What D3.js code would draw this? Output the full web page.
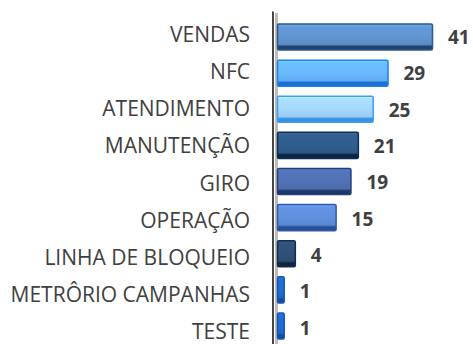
<!DOCTYPE html>
<html>
<head>
<meta charset="utf-8">
<script src="https://cdn.jsdelivr.net/npm/d3@7/dist/d3.min.js"></script>
<style>
  html, body { margin: 0; padding: 0; background: #ffffff; }
  svg { display: block; }
</style>
</head>
<body>
<svg id="chart" width="473" height="344"></svg>
<script>
// Categories and counts, top to bottom
const categories = [
  "VENDAS", "NFC", "ATENDIMENTO", "MANUTENÇÃO", "GIRO",
  "OPERAÇÃO", "LINHA DE BLOQUEIO", "METRÔRIO CAMPANHAS", "TESTE"
];
const values = [41, 29, 25, 21, 19, 15, 4, 1, 1];

// Bar palette: body, border, bottom shade
const fills   = ["#5f92cc", "#66b4f8", "#a2d2fc", "#2f5b89", "#4f6fb0", "#5d8cd8", "#2e4f76", "#2069cf", "#2069cf"];
const strokes = ["#2d5886", "#1d80e8", "#3d9cf3", "#0f2d52", "#243f7a", "#2f5aa6", "#142c4b", "#1556b3", "#1556b3"];
const shades  = ["#21436b", "#1b6fd2", "#3a92e6", "#0c2443", "#1e3668", "#284f94", "#10243f", "#124a9c", "#124a9c"];

const data = categories.map((c, i) => ({ cat: c, val: values[i], i }));

const svg = d3.select("#chart");
const depth = 4;
const font = "'Open Sans', sans-serif";

const x = d3.scaleLinear().domain([0, 41]).range([281, 433]);
const y = d3.scaleBand().domain(categories).range([19, 344])
  .paddingInner(0.25).paddingOuter(0.125);
// the perspective spreads the labels slightly wider than the bars
const yCat = d3.scalePoint().domain(categories).range([34, 331]);
const yVal = d3.scalePoint().domain(categories).range([37, 328]);

// vertical gradients giving each bar a bevelled look
const defs = svg.append("defs");
data.forEach(d => {
  const g = defs.append("linearGradient")
    .attr("id", "g" + d.i).attr("x1", 0).attr("y1", 0).attr("x2", 0).attr("y2", 1);
  const base = d3.color(fills[d.i]);
  g.append("stop").attr("offset", "0%").attr("stop-color", base.brighter(0.5));
  g.append("stop").attr("offset", "12%").attr("stop-color", base.brighter(0.15));
  g.append("stop").attr("offset", "45%").attr("stop-color", base.brighter(0.1));
  g.append("stop").attr("offset", "78%").attr("stop-color", base.darker(0.1));
  g.append("stop").attr("offset", "86%").attr("stop-color", shades[d.i]);
  g.append("stop").attr("offset", "100%").attr("stop-color", shades[d.i]);
});

// axis wall: dark edge with a light grey floor strip beside it
svg.append("rect").attr("x", 275).attr("y", 13).attr("width", 3).attr("height", 331)
  .attr("fill", "#bdbdbd");
svg.append("path")
  .attr("d", `M272,11 L274,12 L274,344 L272,344 Z`)
  .attr("fill", "#474747");

// bars
svg.append("g").selectAll("rect").data(data).join("rect")
  .attr("x", x(0) - depth + 0.5)
  .attr("y", d => y(d.cat) + 0.5)
  .attr("width", d => x(d.val) - x(0) + depth - 1)
  .attr("height", y.bandwidth() - 1)
  .attr("rx", 1.5)
  .attr("fill", d => `url(#g${d.i})`)
  .attr("stroke", d => strokes[d.i])
  .attr("stroke-width", 1.5);

// category labels
const axis = d3.axisLeft(yCat).tickSize(0).tickPadding(0);
const ag = svg.append("g").attr("transform", "translate(250,0)").call(axis);
ag.select(".domain").remove();
ag.selectAll("text")
  .attr("dy", "0.357em")
  .attr("font-family", font)
  .attr("font-size", 21)
  .attr("fill", "#404040");

// value labels
svg.append("g").selectAll("text").data(data).join("text")
  .attr("x", d => x(d.val) + 15)
  .attr("y", d => yVal(d.cat))
  .attr("dy", "0.357em")
  .attr("font-family", font)
  .attr("font-weight", "bold")
  .attr("font-size", 19)
  .attr("fill", "#404040")
  .text(d => d.val);
</script>
</body>
</html>
